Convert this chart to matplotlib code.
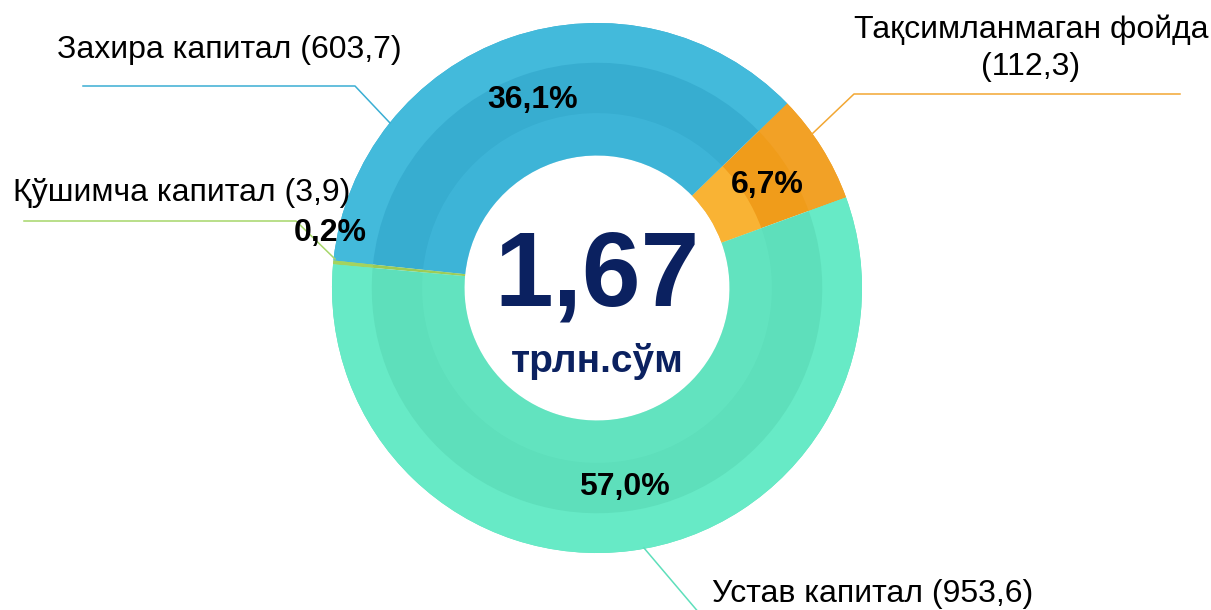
import numpy as np
import matplotlib
matplotlib.use('Agg')
import matplotlib.pyplot as plt
from matplotlib.patches import Wedge

plt.rcParams['font.family'] = ['Liberation Sans', 'DejaVu Sans']

# ─── данные (млрд. сўм) ───────────────────────────────────────────────
names  = ['Тақсимланмаган фойда', 'Захира капитал', 'Қўшимча капитал', 'Устав капитал']
values = [112.3, 603.7, 3.9, 953.6]
pct_labels = ['6,7%', '36,1%', '0,2%', '57,0%']
total_label = '1,67'
unit_label  = 'трлн.сўм'

colors  = ['#F09C1A', '#37ADD0', '#9CCB55', '#5EDFBB']
outer_c = ['#F2A126', '#43BADB', '#A4D35E', '#67EAC6']
inner_c = ['#FDBE40', '#4CC6E8', '#A4D35E', '#6CEDCA']
line_c  = ['#F2A733', '#3AAED3', '#A6D66A', '#5EDFBB']

W, H = 1211, 610
fig = plt.figure(figsize=(W / 100, H / 100), dpi=100)
ax = fig.add_axes([0, 0, 1, 1])

cx, cy, R = 597, H - 288, 265
ring = 0.5

wedges, _ = ax.pie(values, colors=colors, startangle=20, counterclock=True,
                   center=(cx, cy), radius=R, frame=True,
                   wedgeprops=dict(width=R * ring, linewidth=0))
ax.set_xlim(0, W)
ax.set_ylim(0, H)
ax.set_aspect('equal')
ax.axis('off')

# объёмные полосы
for i, (w, oc, ic) in enumerate(zip(wedges, outer_c, inner_c)):
    ax.add_patch(Wedge((cx, cy), R, w.theta1, w.theta2, width=R * 0.15,
                       facecolor=oc, lw=0, zorder=w.get_zorder() + 0.1))
    ax.add_patch(Wedge((cx, cy), R * 0.66, w.theta1, w.theta2, width=R * 0.16,
                       facecolor=ic, lw=0, alpha=0.7 if i == 0 else 0.3,
                       zorder=w.get_zorder() + 0.1))

# подписи процентов
pct_pos = [(767, 185), (533, 100), (330, 233), (624, 487)]
for (x, y), t in zip(pct_pos, pct_labels):
    ax.text(x, H - y, t, fontsize=23, fontweight='bold', ha='center', va='center',
            color='black', zorder=5)

# центр
ax.text(cx, H - 278, total_label, fontsize=76, fontweight='bold', ha='center',
        va='center', color='#0B2160', zorder=5)
ax.text(cx, H - 362, unit_label, fontsize=28, fontweight='bold', ha='center',
        va='center', color='#0B2160', zorder=5)

# выноски
leaders = [
    [(812, 134), (854, 94), (1180, 94)],
    [(390, 123), (355, 86), (83, 86)],
    [(335, 259), (296, 221), (24, 221)],
    [(644, 548), (700, 614)],
]
for pts, c in zip(leaders, line_c):
    xs = [p[0] for p in pts]
    ys = [H - p[1] for p in pts]
    ax.plot(xs, ys, color=c, lw=1.1, zorder=4, clip_on=False)

def fmt(v):
    return f'{v:.1f}'.replace('.', ',')

ax.text(1031, H - 48, f'{names[0]}\n({fmt(values[0])})',
        fontsize=23, ha='center', va='center', linespacing=1.3)
ax.text(57, H - 50, f'{names[1]} ({fmt(values[1])})', fontsize=23, ha='left', va='center')
ax.text(13, H - 193, f'{names[2]} ({fmt(values[2])})', fontsize=23, ha='left', va='center')
ax.text(712, H - 594, f'{names[3]} ({fmt(values[3])})', fontsize=23, ha='left', va='center')

fig.savefig('out.png', dpi=100, facecolor='white')
